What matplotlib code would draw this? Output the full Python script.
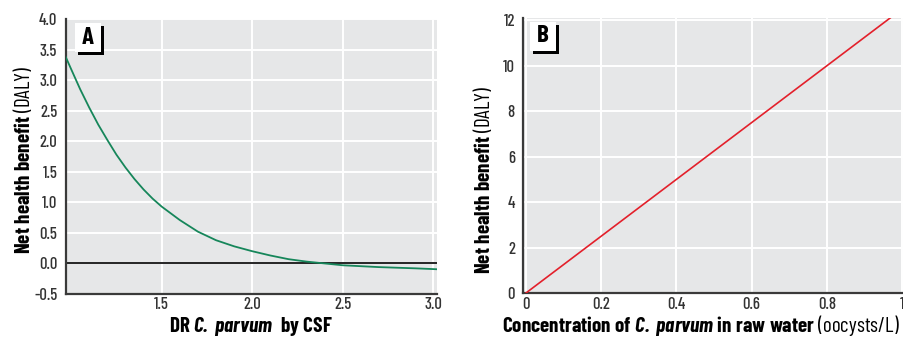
import numpy as np
import matplotlib
matplotlib.use("Agg")
import matplotlib.pyplot as plt
from matplotlib.patches import Rectangle

# panel A: net health benefit vs dose-response ratio
dr_ratio = [0.97, 1.0, 1.05, 1.1, 1.15, 1.2, 1.25, 1.3, 1.35, 1.4, 1.45, 1.5, 1.6, 1.7,
            1.8, 1.9, 2.0, 2.1, 2.2, 2.3, 2.4, 2.5, 2.6, 2.7, 2.8, 2.9, 3.02]
benefit_a = [3.38, 3.18, 2.85, 2.55, 2.27, 2.02, 1.78, 1.57, 1.38, 1.21, 1.06, 0.93, 0.71, 0.52,
             0.38, 0.28, 0.20, 0.13, 0.07, 0.03, 0.0, -0.03, -0.045, -0.06, -0.07, -0.08, -0.095]

# panel B: net health benefit vs oocyst concentration
conc = [0.0, 0.975]
benefit_b = [0.0, 12.19]

a_yticks = [-0.5, 0.0, 0.5, 1.0, 1.5, 2.0, 2.5, 3.0, 3.5, 4.0]
a_xticks = [1.5, 2.0, 2.5, 3.0]
b_yticks = [0, 2, 4, 6, 8, 10, 12]
b_xticks = [0, 0.2, 0.4, 0.6, 0.8, 1.0]
b_xlabels = ["0", "0.2", "0.4", "0.6", "0.8", "1"]

fnt = "Barlow Condensed"
plt.rcParams["font.family"] = [fnt, "DejaVu Sans"]
plt.rcParams["mathtext.fontset"] = "custom"
plt.rcParams["mathtext.rm"] = fnt
plt.rcParams["mathtext.bf"] = fnt + ":bold"
plt.rcParams["mathtext.it"] = fnt + ":italic"
plt.rcParams["mathtext.bfit"] = fnt + ":italic:bold"

W, H = 904, 337
fig = plt.figure(figsize=(W / 100, H / 100), dpi=100)

bg = "#e6e7e8"
spine_c = "#3a3a3a"
lab_size = 15.2


def style(ax):
    ax.set_facecolor(bg)
    for s in ["top", "right"]:
        ax.spines[s].set_visible(False)
    for s in ["left", "bottom"]:
        ax.spines[s].set_color(spine_c)
        ax.spines[s].set_linewidth(1.6)
    ax.grid(True, color="white", linewidth=1.4)
    ax.set_axisbelow(True)
    ax.tick_params(length=0, labelsize=12, colors="#333333")
    ax.tick_params(axis="x", pad=2.5)
    ax.tick_params(axis="y", pad=6)
    for t in ax.get_xticklabels() + ax.get_yticklabels():
        t.set_fontweight(500)


def px_ax(l, t, r, b):
    return fig.add_axes([l / W, 1 - b / H, (r - l) / W, (b - t) / H])


def panel_tag(l, t, txt):
    # white box with black drop shadow (right and bottom)
    w, h, off = 26, 29, 3
    fig.patches.append(Rectangle(((l + off) / W, 1 - (t + h + off) / H), w / W, h / H,
                                 transform=fig.transFigure, facecolor="black", zorder=5))
    fig.patches.append(Rectangle((l / W, 1 - (t + h) / H), w / W, h / H,
                                 transform=fig.transFigure, facecolor="white", zorder=6))
    fig.text((l + w / 2) / W, 1 - (t + h / 2) / H, txt, ha="center", va="center",
             fontsize=18, fontweight="bold", zorder=7)


# ---- panel A
axa = px_ax(65.7, 19, 437, 294)
axa.plot(dr_ratio, benefit_a, color="#16865a", linewidth=1.3, zorder=3)
axa.axhline(0, color="black", linewidth=1.2, zorder=2)
axa.set_xlim(0.97, 3.02)
axa.set_ylim(-0.5, 4.0)
axa.set_yticks(a_yticks)
axa.set_yticklabels(["%.1f" % v for v in a_yticks])
axa.set_xticks(a_xticks)
axa.set_xticklabels(["%.1f" % v for v in a_xticks])
style(axa)

fig.text(23 / W, 1 - 160 / H, r"$\mathbf{Net\ health\ benefit}$ (DALY)",
         rotation=90, ha="center", va="center", fontsize=lab_size)
fig.text(251 / W, 1 - 331.5 / H, r"$\mathbf{DR\ }\mathbfit{C.\ parvum}\mathbf{\ \ by\ CSF}$",
         ha="center", va="baseline", fontsize=lab_size)
panel_tag(75, 23, "A")

# ---- panel B
axb = px_ax(523.3, 18, 903, 293.3)
axb.plot(conc, benefit_b, color="#e3202b", linewidth=1.2, zorder=3)
axb.set_xlim(-0.006, 1.002)
axb.set_ylim(0, 12.1)
axb.set_yticks(b_yticks)
axb.set_yticklabels([str(v) for v in b_yticks])
axb.set_xticks(b_xticks)
axb.set_xticklabels(b_xlabels)
style(axb)

fig.text(483 / W, 1 - 180 / H, r"$\mathbf{Net\ health\ benefit}$ (DALY)",
         rotation=90, ha="center", va="center", fontsize=lab_size)
fig.text(701 / W, 1 - 331.5 / H,
         r"$\mathbf{Concentration\ of\ }\mathbfit{C.\ parvum}\mathbf{\ in\ raw\ water}$ (oocysts/L)",
         ha="center", va="baseline", fontsize=lab_size)
panel_tag(530, 22, "B")

fig.savefig("out.png", dpi=100, facecolor="white")
